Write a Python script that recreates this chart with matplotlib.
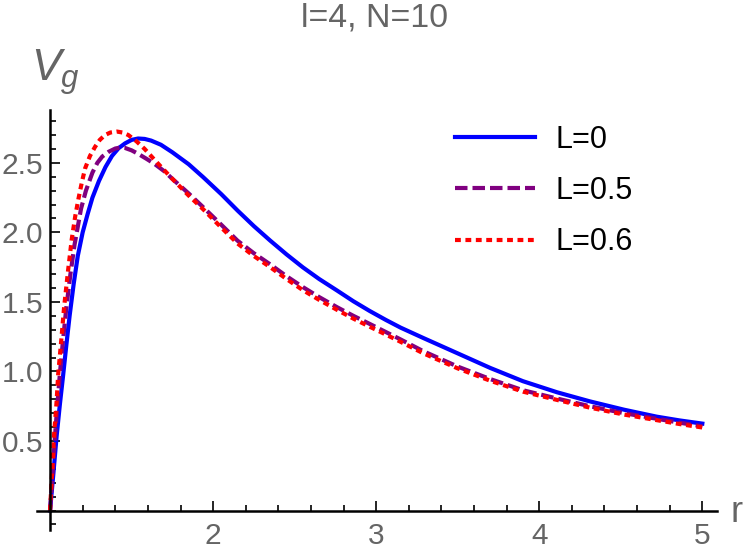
import matplotlib
matplotlib.use("Agg")
import matplotlib.pyplot as plt
from matplotlib.ticker import MultipleLocator

plt.rcParams["font.family"] = ["Liberation Sans", "DejaVu Sans"]
plt.rcParams["mathtext.fontset"] = "custom"
plt.rcParams["mathtext.it"] = "Liberation Sans:italic"
plt.rcParams["mathtext.rm"] = "Liberation Sans"

# values
r_l0 = [1.0, 1.01, 1.02, 1.04, 1.06, 1.08, 1.10, 1.12, 1.145, 1.17, 1.20, 1.23,
        1.26, 1.30, 1.34, 1.38, 1.42, 1.46, 1.50, 1.54, 1.58, 1.62, 1.68, 1.75,
        1.85, 1.94, 2.05, 2.15, 2.25, 2.35, 2.45, 2.55, 2.65, 2.76, 2.86, 2.96,
        3.06, 3.15, 3.29, 3.50, 3.70, 3.90, 4.11, 4.31, 4.52, 4.72, 4.86, 5.0]
v_l0 = [0.0, 0.13, 0.26, 0.53, 0.76, 0.97, 1.19, 1.40, 1.63, 1.83, 2.00, 2.13,
        2.25, 2.37, 2.47, 2.55, 2.605, 2.64, 2.665, 2.675, 2.672, 2.66, 2.63, 2.576,
        2.49, 2.396, 2.275, 2.157, 2.045, 1.941, 1.842, 1.749, 1.665, 1.582, 1.505, 1.435,
        1.37, 1.315, 1.24, 1.13, 1.025, 0.93, 0.85, 0.785, 0.725, 0.675, 0.648, 0.625]

r_l05 = [1.0, 1.015, 1.03, 1.045, 1.06, 1.08, 1.10, 1.125, 1.15, 1.17, 1.19, 1.22,
         1.26, 1.29, 1.32, 1.36, 1.40, 1.43, 1.46, 1.50, 1.54, 1.59, 1.64, 1.70,
         1.75, 1.85, 1.94, 2.05, 2.15, 2.25, 2.35, 2.45, 2.55, 2.65, 2.76, 2.86,
         2.96, 3.06, 3.15, 3.29, 3.50, 3.70, 3.90, 4.11, 4.31, 4.52, 4.72, 4.86, 5.0]
v_l05 = [0.0, 0.26, 0.53, 0.76, 0.98, 1.23, 1.46, 1.70, 1.91, 2.04, 2.17, 2.30,
         2.43, 2.50, 2.545, 2.58, 2.603, 2.61, 2.607, 2.59, 2.565, 2.53, 2.493, 2.44,
         2.385, 2.28, 2.18, 2.055, 1.94, 1.85, 1.77, 1.685, 1.607, 1.535, 1.462, 1.40,
         1.342, 1.283, 1.23, 1.145, 1.035, 0.945, 0.865, 0.805, 0.75, 0.70, 0.66, 0.632, 0.605]

r_l06 = [1.0, 1.01, 1.025, 1.04, 1.05, 1.07, 1.086, 1.11, 1.133, 1.155, 1.174, 1.195,
         1.215, 1.245, 1.276, 1.305, 1.337, 1.37, 1.41, 1.445, 1.48, 1.53, 1.58, 1.65,
         1.75, 1.85, 1.94, 2.05, 2.15, 2.25, 2.35, 2.45, 2.55, 2.65, 2.76, 2.86,
         2.96, 3.06, 3.15, 3.29, 3.50, 3.70, 3.90, 4.11, 4.31, 4.52, 4.72, 4.86, 5.0]
v_l06 = [0.0, 0.22, 0.55, 0.78, 0.98, 1.24, 1.46, 1.72, 1.95, 2.12, 2.24, 2.36,
         2.46, 2.55, 2.615, 2.665, 2.70, 2.718, 2.725, 2.718, 2.70, 2.655, 2.60, 2.51,
         2.385, 2.265, 2.165, 2.035, 1.92, 1.83, 1.75, 1.665, 1.585, 1.515, 1.443, 1.38,
         1.322, 1.265, 1.213, 1.13, 1.022, 0.933, 0.855, 0.795, 0.74, 0.69, 0.65, 0.622, 0.597]

labels = ["L=0", "L=0.5", "L=0.6"]
GRAY = "#656565"

fig = plt.figure(figsize=(7.5, 5.55), dpi=100)
ax = fig.add_axes([37 / 750, 1 - 530 / 555, 680 / 750, 420 / 555])

ax.plot(r_l0, v_l0, color="#0000ff", lw=3.0, label=labels[0])
ax.plot(r_l05, v_l05, color="#800080", lw=3.0, dashes=(3.0, 1.2), label=labels[1])
ax.plot(r_l06, v_l06, color="#ff0000", lw=3.0, dashes=(1.4, 1.1), label=labels[2])

ax.set_xlim(0.92, 5.09)
ax.set_ylim(-0.14, 2.88)

for side in ("top", "right"):
    ax.spines[side].set_visible(False)
ax.spines["left"].set_position(("data", 1))
ax.spines["bottom"].set_position(("data", 0))
for side in ("left", "bottom"):
    ax.spines[side].set_linewidth(1.8)

ax.xaxis.set_minor_locator(MultipleLocator(0.2))
ax.yaxis.set_minor_locator(MultipleLocator(0.1))
ax.set_xticks([2, 3, 4, 5])
ax.set_yticks([0.5, 1.0, 1.5, 2.0, 2.5])
ax.set_yticklabels(["0.5", "1.0", "1.5", "2.0", "2.5"])
ax.tick_params(which="both", direction="in", labelsize=21.5, labelcolor=GRAY,
               color="black", width=1.2)
ax.tick_params(which="major", length=7)
ax.tick_params(axis="y", which="major", pad=5)
ax.tick_params(axis="x", which="major", pad=8)
ax.tick_params(which="minor", length=4)

ax.legend(loc="upper left", bbox_to_anchor=(0.615, 0.965), frameon=False,
          fontsize=22, handlelength=2.6, handletextpad=0.69,
          labelspacing=0.7, borderpad=0, borderaxespad=0)

fig.text(0.5, 1 - 18 / 555, "l=4, N=10", ha="center", va="center",
         fontsize=24.5, color=GRAY)
fig.text(31 / 750, 1 - 81 / 555, r"$V_g$", ha="left", va="baseline",
         fontsize=32, color=GRAY)
fig.text(737 / 750, 1 - 512 / 555, "r", ha="center", va="center",
         fontsize=26, color=GRAY)

fig.savefig("out.png", dpi=100)
